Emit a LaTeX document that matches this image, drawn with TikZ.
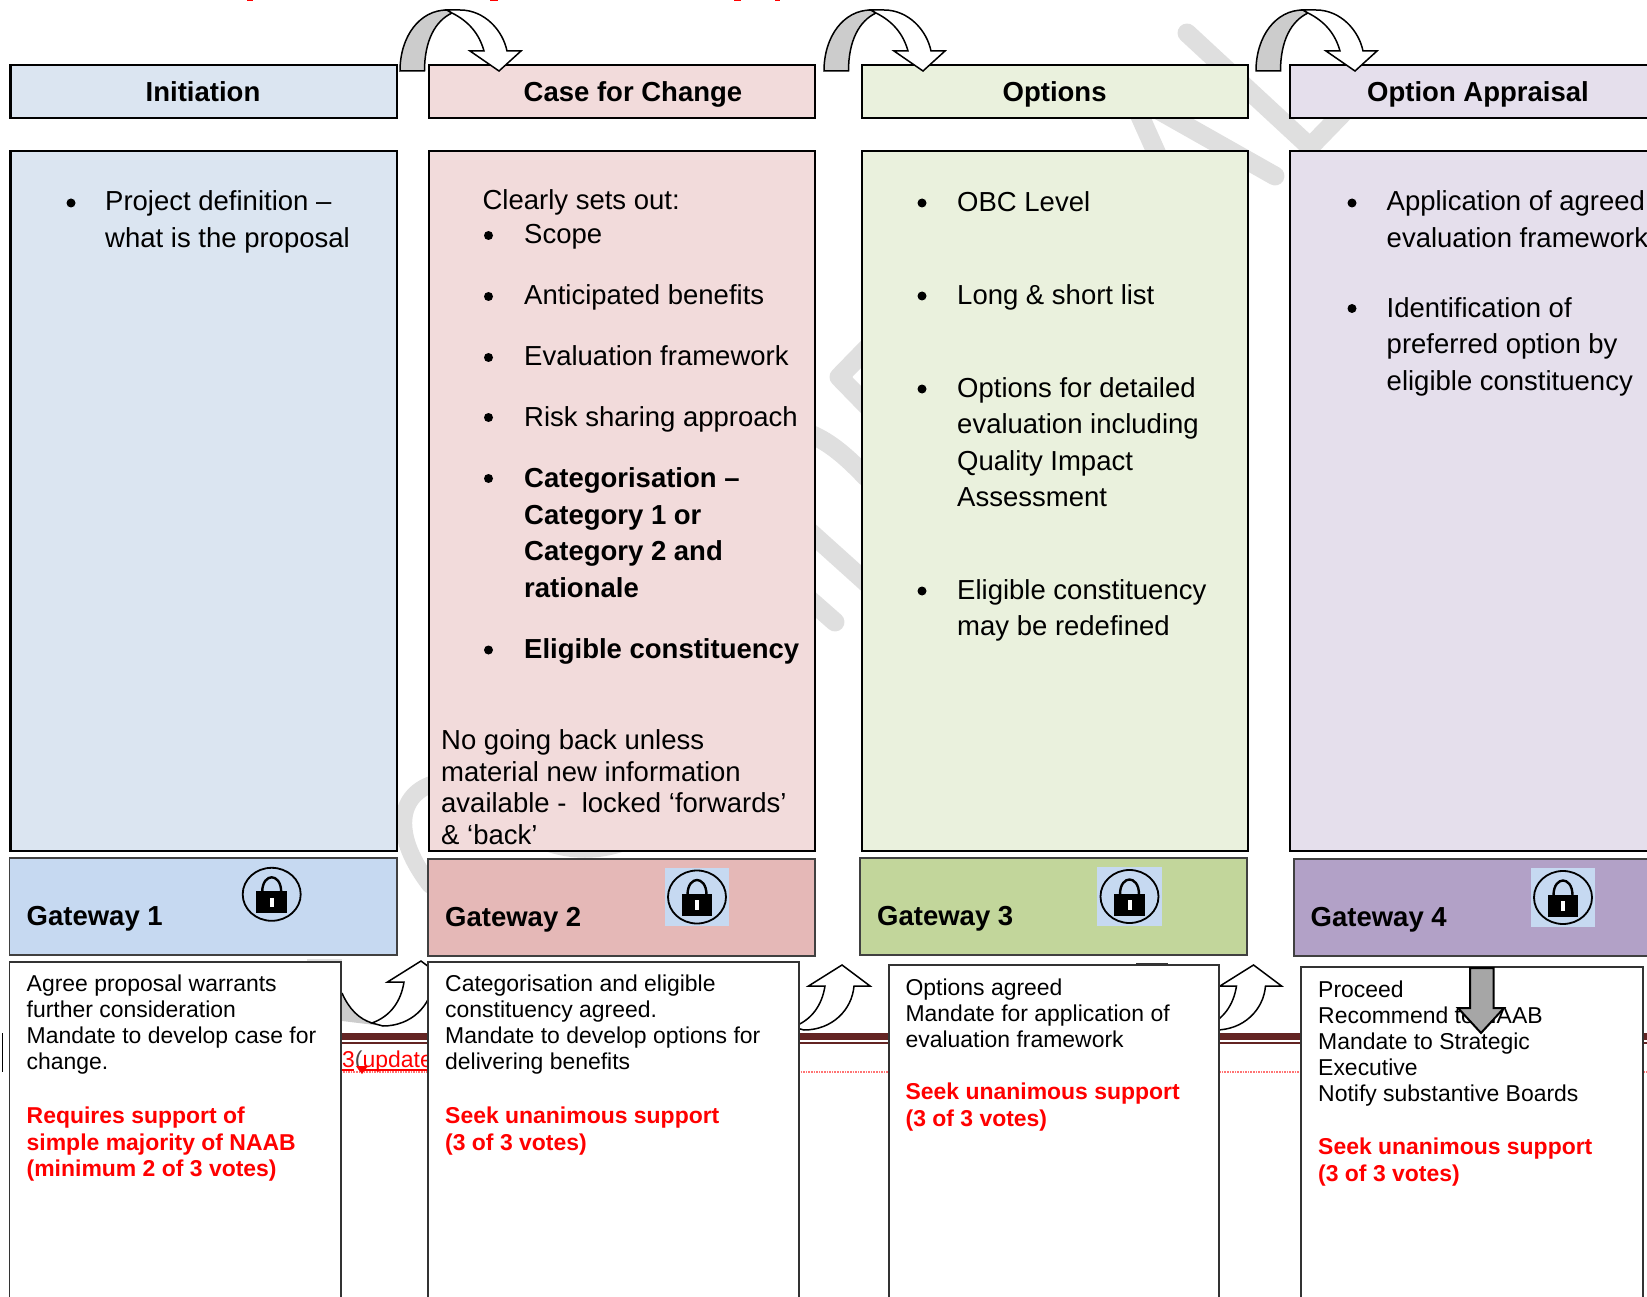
\documentclass[tikz,border=0pt]{standalone}
\usepackage{fontspec}
\setmainfont{Liberation Sans}
\definecolor{headblue}{HTML}{DBE5F1}
\definecolor{headrose}{HTML}{F2DBDB}
\definecolor{headgreen}{HTML}{EAF1DD}
\definecolor{headlilac}{HTML}{E5DFEC}
\definecolor{gateblue}{HTML}{C6D9F1}
\definecolor{gaterose}{HTML}{E5B8B7}
\definecolor{gategreen}{HTML}{C2D69B}
\definecolor{gatelilac}{HTML}{B2A1C7}
\definecolor{maroon}{HTML}{632423}
\definecolor{wmgrey}{HTML}{DFDFDF}
\tikzset{
  panel/.style={draw=black, line width=2.4pt, anchor=north west, inner sep=0pt, outer sep=0pt},
  gatebox/.style={draw=black!75, line width=1.8pt, anchor=north west, inner sep=0pt, outer sep=0pt},
  notebox/.style={draw=black!80, line width=1.3pt, fill=white, anchor=north west, inner sep=0pt, outer sep=0pt},
  lockbg/.style={fill=gateblue, anchor=north west, inner sep=0pt, outer sep=0pt},
  big/.style={font=\fontsize{27.5}{36.5}\selectfont, anchor=base west, align=left, inner sep=0pt},
  bigbold/.style={big, font=\fontsize{27.5}{36.5}\selectfont\bfseries},
  tight/.style={big, font=\fontsize{27.5}{31.4}\selectfont},
  small/.style={font=\fontsize{22.95}{26}\selectfont, anchor=base west, align=left, inner sep=0pt},
  smallred/.style={small, font=\fontsize{22.95}{26.3}\selectfont\bfseries, text=red},
  dot/.style={circle, fill=black, inner sep=0pt, minimum size=9pt},
  wmark/.style={draw=wmgrey, line width=19pt, line cap=round, line join=round},
  blockline/.style={draw=black, line width=1.5pt, line join=miter},
  toparrow/.pic={
    \path[blockline, fill=black!20] (0,0) .. controls (0,-35) and (20,-61) .. (47,-61)
      -- (52,-58) .. controls (35,-50) and (24.5,-30) .. (24.5,0) -- cycle;
    \path[blockline, fill=white] (47,-61) -- (60,-61) .. controls (85,-61) and (103,-40) .. (107,-20)
      -- (121,-20) -- (99,0) -- (70,-20) -- (84,-20) .. controls (79,-38) and (68,-50) .. (52,-58) -- cycle;
  },
  uparrow/.pic={
    \fill[black!20] (-79,32) .. controls (-72,48) and (-62,58) .. (-49,62) -- (-38,65) -- (-79,60) -- cycle;
    \draw[blockline] (-79,32) .. controls (-72,48) and (-62,58) .. (-49,62);
    \path[blockline, fill=white] (0,0) -- (28,21) -- (12,21) .. controls (10,45) and (-10,65) .. (-38,65)
      -- (-49,62) .. controls (-30,55) and (-20,40) .. (-17,21) -- (-33.5,21) -- cycle;
  },
  lockicon/.pic={
    \draw[line width=1.8pt] (0,0) ellipse [x radius=29pt, y radius=26.5pt];
    \draw[line width=2.4pt] (-9.5,-2) .. controls (-9.5,-13) and (-4,-17) .. (0,-17) .. controls (4,-17) and (9.5,-13) .. (9.5,-2);
    \fill (-15.3,-3) rectangle (15.3,19);
    \fill[white] (-2,3.4) rectangle (2,13);
  }
}
\begin{document}
\begin{tikzpicture}[x=1pt, y=-1pt]
  \useasboundingbox (0,0) rectangle (1647,1297);
  \clip (0,0) rectangle (1647,1297);

  % watermark, only its bits between the boxes show
  \draw[wmark] (1187,33) -- (1310,147) -- (1343,113);
  \draw[wmark] (1160,111) -- (1275,176);
  \draw[wmark] (1135,105) -- (1165,172);
  \draw[wmark] (875,340) -- (839,377) -- (875,414);
  \draw[wmark] (810,434) .. controls (830,442) and (848,458) .. (866,477);
  \draw[wmark] (810,532) -- (870,586);
  \draw[wmark] (810,600) -- (835,622);
  \draw[wmark, line width=17pt] (440,782) .. controls (400,790) and (388,830) .. (430,885);
  \fill[wmgrey] (545,851) .. controls (570,860) and (600,860) .. (625,851) -- cycle;
  \fill[wmgrey] (307,959) rectangle (342,962);

  % specks of the cut off title
  \foreach \sx/\sw in {247/6, 490/8, 734/7, 775/5}
    \fill[red] (\sx,0) rectangle ++(\sw,1.2);

  % headers
  \node[panel, fill=headblue, minimum width=386.4pt, minimum height=53pt] (head1) at (10.6,65) {};
  \node[panel, fill=headrose, minimum width=386pt, minimum height=53pt] (head2) at (429,65) {};
  \node[panel, fill=headgreen, minimum width=386pt, minimum height=53pt] (head3) at (862,65) {};
  \node[panel, fill=headlilac, minimum width=400pt, minimum height=53pt] (head4) at (1290,65) {};
  \node[bigbold, anchor=base] (title1) at (203,102) {Initiation};
  \node[bigbold, anchor=base] (title2) at (633,102) {Case for Change};
  \node[bigbold, anchor=base] (title3) at (1054.6,102) {Options};
  \node[bigbold, anchor=base] (title4) at (1478,102) {Option Appraisal};

  % bodies
  \node[panel, fill=headblue, minimum width=386.4pt, minimum height=700pt] (body1) at (10.6,151) {};
  \node[panel, fill=headrose, minimum width=386pt, minimum height=700pt] (body2) at (429,151) {};
  \node[panel, fill=headgreen, minimum width=386pt, minimum height=700pt] (body3) at (862,151) {};
  \node[panel, fill=headlilac, minimum width=400pt, minimum height=700pt] (body4) at (1290,151) {};

  \pic at ([shift={(3,6)}]head1.north east) {toparrow};
  \pic at ([shift={(9,6)}]head2.north east) {toparrow};
  \pic at ([shift={(8,6)}]head3.north east) {toparrow};

  % first column
  \node[dot] (dot11) at (71,203) {};
  \node[big] (text11) at (105,247.5) {Project definition --\\what is the proposal};

  % second column
  \node[big] (text20) at (482.4,209.5) {Clearly sets out:};
  \foreach \ny/\ty/\tx in {1/244/Scope, 2/305/Anticipated benefits, 3/366/Evaluation framework, 4/426/Risk sharing approach} {
    \node[dot] (dot2\ny) at (488.5,\ty-8.5) {};
    \node[big] (text2\ny) at (524,\ty) {\tx};
  }
  \node[dot] (dot25) at (488.5,478.5) {};
  \node[bigbold] (text25) at (524,597) {Categorisation --\\Category 1 or\\Category 2 and\\rationale};
  \node[dot] (dot26) at (488.5,650) {};
  \node[bigbold] (text26) at (524,658) {Eligible constituency};
  \node[tight] (text27) at (441,844) {No going back unless\\material new information\\available -~~locked `forwards'\\\& `back'};

  % third column
  \node[dot] (dot31) at (922,203) {};
  \node[big] (text31) at (957,212) {OBC Level};
  \node[dot] (dot32) at (922,296) {};
  \node[big] (text32) at (957,305) {Long \& short list};
  \node[dot] (dot33) at (922,389) {};
  \node[big] (text33) at (957,506.5) {Options for detailed\\evaluation including\\Quality Impact\\Assessment};
  \node[dot] (dot34) at (922,591) {};
  \node[big] (text34) at (957,635.5) {Eligible constituency\\may be redefined};

  % fourth column
  \node[dot] (dot41) at (1352,203) {};
  \node[big] (text41) at (1386.5,247.5) {Application of agreed\\evaluation framework};
  \node[dot] (dot42) at (1352,308.5) {};
  \node[big] (text42) at (1386.5,390.5) {Identification of\\preferred option by\\eligible constituency};

  % gateways
  \node[gatebox, fill=gateblue, minimum width=387.5pt, minimum height=97pt] (gate1) at (9.5,858) {};
  \node[gatebox, fill=gaterose, minimum width=387pt, minimum height=97pt] (gate2) at (428,859) {};
  \node[gatebox, fill=gategreen, minimum width=387pt, minimum height=97pt] (gate3) at (860,858) {};
  \node[gatebox, fill=gatelilac, minimum width=400pt, minimum height=97pt] (gate4) at (1294,859) {};
  \node[bigbold] (gatename1) at (26.5,925) {Gateway 1};
  \node[bigbold] (gatename2) at (445,926) {Gateway 2};
  \node[bigbold] (gatename3) at (877,925) {Gateway 3};
  \node[bigbold] (gatename4) at (1310.5,926) {Gateway 4};
  \node[lockbg, minimum width=64pt, minimum height=58pt] (lockback2) at (665,868) {};
  \node[lockbg, minimum width=65pt, minimum height=59pt] (lockback3) at (1097,867) {};
  \node[lockbg, minimum width=64pt, minimum height=59pt] (lockback4) at (1531,868) {};
  \pic at (271.7,894.3) {lockicon};
  \pic at (lockback2.center) {lockicon};
  \pic at (lockback3.center) {lockicon};
  \pic at (lockback4.center) {lockicon};

  % rules under the gateways
  \draw[maroon, line width=7pt] (330,1036.5) -- (1647,1036.5);
  \draw[maroon, line width=2.2pt] (330,1043) -- (1647,1043);
  \draw[red!55, line width=1.6pt, densely dotted] (330,1072) -- (1647,1072);
  \draw[black, line width=1.4pt] (2.5,1033) -- (2.5,1072);
  \node[small, text=red] (stray) at (342,1067) {3{\color{black!70}(}update};
  \draw[red, line width=1.5pt] (342,1070) -- (354,1070) (362,1070) -- (430,1070);
  \fill[red] (356,1066) -- (368,1066) -- (362,1074) -- cycle;

  \pic at ([shift={(-7,5)}]gate2.south west) {uparrow};
  \pic at ([shift={(-18,10)}]gate3.south west) {uparrow};
  \pic at ([shift={(-40.5,9)}]gate4.south west) {uparrow};

  % lower notes
  \node[notebox, minimum width=331.5pt, minimum height=350pt] (note1) at (9.5,962) {};
  \node[notebox, minimum width=371pt, minimum height=350pt] (note2) at (428,962) {};
  \draw[black!80, line width=2pt] (1136,964) -- (1168,964);
  \node[notebox, minimum width=330pt, minimum height=350pt] (note3) at (889,965) {};
  \node[notebox, minimum width=342pt, minimum height=350pt] (note4) at (1301,967) {};

  \node[small] (say1) at (26.5,1069.5) {Agree proposal warrants\\further consideration\\Mandate to develop case for\\change.};
  \node[smallred] (vote1) at (26.5,1176.5) {Requires support of\\simple majority of NAAB\\(minimum 2 of 3 votes)};
  \node[small] (say2) at (445,1069.5) {Categorisation and eligible\\constituency agreed.\\Mandate to develop options for\\delivering benefits};
  \node[smallred] (vote2) at (445,1150) {Seek unanimous support\\(3 of 3 votes)};
  \node[small] (say3) at (905.4,1047) {Options agreed\\Mandate for application of\\evaluation framework};
  \node[smallred] (vote3) at (905.4,1126) {Seek unanimous support\\(3 of 3 votes)};
  \node[small] (say4) at (1318,1101.5) {Proceed\\Recommend to NAAB\\Mandate to Strategic\\Executive\\Notify substantive Boards};
  \node[smallred] (vote4) at (1318,1181) {Seek unanimous support\\(3 of 3 votes)};

  % arrow on top of the fourth note
  \path[draw=black, line width=2pt, fill=black!35, line join=miter]
    (1470,968) -- (1493.5,968) -- (1493.5,1008) -- (1504,1008) -- (1481,1033) -- (1458,1008) -- (1470,1008) -- cycle;
\end{tikzpicture}
\end{document}
